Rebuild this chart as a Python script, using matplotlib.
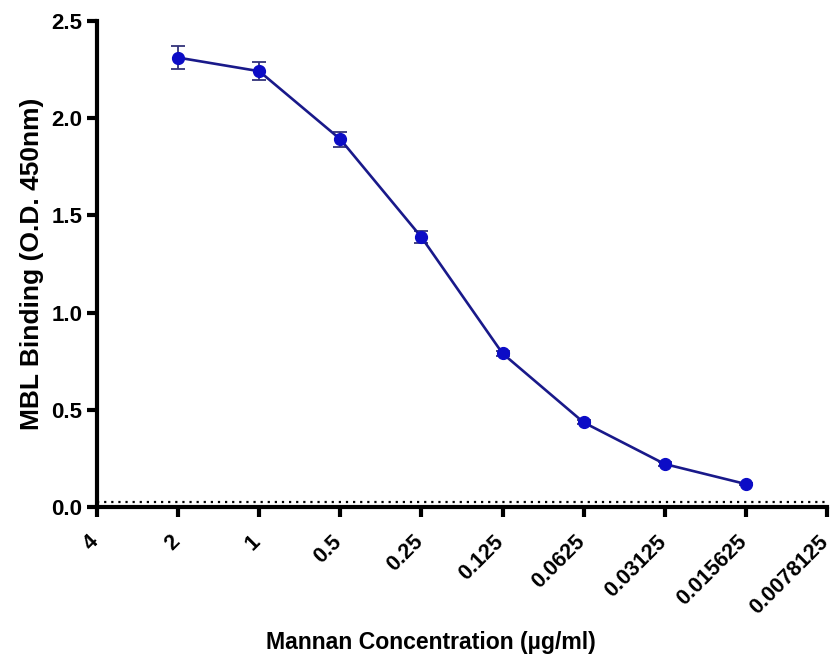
import numpy as np
import matplotlib.pyplot as plt
import matplotlib.transforms as mtransforms

plt.rcParams['font.family'] = ['Liberation Sans', 'DejaVu Sans']
plt.rcParams['font.weight'] = 'bold'

# Mannan dilution series (ug/ml) and MBL binding readout
conc_labels = ['4', '2', '1', '0.5', '0.25', '0.125', '0.0625',
               '0.03125', '0.015625', '0.0078125']
meas_labels = ['2', '1', '0.5', '0.25', '0.125', '0.0625', '0.03125', '0.015625']
od_mean = [2.312, 2.242, 1.892, 1.388, 0.790, 0.435, 0.221, 0.118]
od_sem = [0.059, 0.045, 0.038, 0.032, 0.012, 0.010, 0.008, 0.006]
blank_od = 0.024

fig = plt.figure(figsize=(8.33, 6.58), dpi=100)
ax = fig.add_axes([0.1164, 0.2295, 0.8764, 0.7385])

pos = {lab: i for i, lab in enumerate(conc_labels)}
x = [pos[lab] for lab in meas_labels]

ax.errorbar(x, od_mean, yerr=od_sem, color='#19198a', lw=1.9,
            marker='o', ms=8.5, mfc='#0c0cc6', mec='#0c0cc6',
            ecolor='#33337a', elinewidth=1.3, capsize=5, capthick=1.3, zorder=3)
ax.axhline(blank_od, color='black', lw=1.6, ls=(0, (1, 2.2)), zorder=2)

ax.set_xlim(0, len(conc_labels) - 1)
ax.set_ylim(0, 2.5)
ax.set_yticks([0, 0.5, 1.0, 1.5, 2.0, 2.5])
ax.set_yticklabels(['0.0', '0.5', '1.0', '1.5', '2.0', '2.5'])
ax.set_xticks(range(len(conc_labels)))
ax.set_xticklabels(conc_labels)

for side in ('top', 'right'):
    ax.spines[side].set_visible(False)
for side in ('left', 'bottom'):
    ax.spines[side].set_linewidth(3)
ax.tick_params(width=3, length=7.5, labelsize=16, pad=3)
ax.tick_params(axis='x', labelsize=15.5, labelrotation=45, pad=10)

# nudge rotated labels so their ends sit under the ticks
shift = mtransforms.ScaledTranslation(-9 / 100, 0, fig.dpi_scale_trans)
for lab in ax.get_xticklabels():
    lab.set_ha('right')
    lab.set_va('top')
    lab.set_rotation_mode('anchor')
    lab.set_transform(lab.get_transform() + shift)

ax.set_ylabel('MBL Binding (O.D. 450nm)', fontsize=19, fontweight='bold', labelpad=5)
ax.set_xlabel('Mannan Concentration (\u00b5g/ml)', fontsize=16.6, fontweight='bold')
ax.xaxis.set_label_coords(0.4575, -0.256)
for spine in ax.spines.values():
    spine.set_clip_on(False)

fig.savefig('out.png', dpi=100)
